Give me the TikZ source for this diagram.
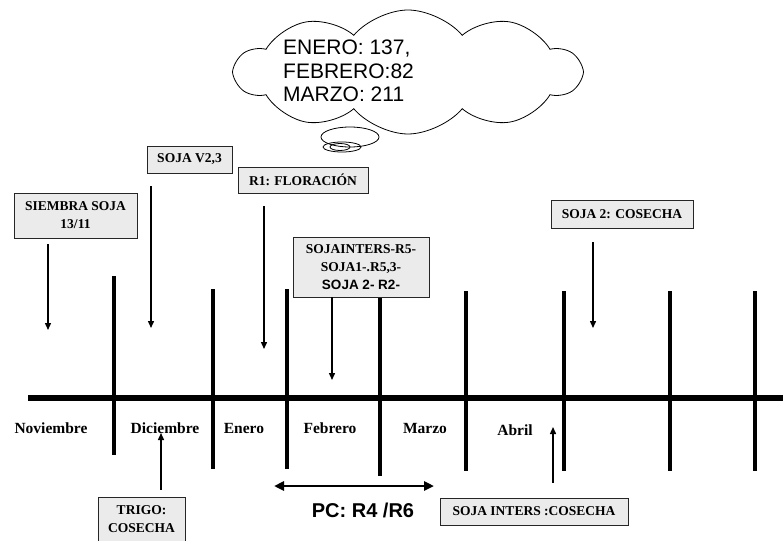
\documentclass[tikz,border=0pt]{standalone}
\usepackage{fontspec}
\setmainfont{Liberation Serif}
\setsansfont{Liberation Sans}
\usetikzlibrary{positioning,arrows.meta,shapes.symbols}
\tikzset{
    caja/.style={
        draw=black!85,
        fill=black!8,
        line width=0.8pt,
        font=\bfseries\fontsize{13.5}{18}\selectfont,
        align=center,
        inner sep=2pt
    },
    mes/.style={font=\bfseries\fontsize{15.5}{18}\selectfont},
    flecha/.style={line width=1.4pt, -{Triangle[length=7pt,width=6pt]}},
    divisor/.style={line width=3.2pt},
}

\begin{document}
\begin{tikzpicture}[x=1pt,y=-1pt]
\useasboundingbox (0,0) rectangle (783,540);

% The cloud with the rainfall
\node[cloud, draw, line width=0.8pt, cloud puffs=10, cloud puff arc=100,
      cloud ignores aspect, minimum width=345, minimum height=124,
      inner sep=0pt] (nube) at (408,72) {};
\draw[line width=0.8pt, fill=white] (350,137) ellipse [x radius=29, y radius=10];
\draw[line width=0.8pt] (342,147) ellipse [x radius=19, y radius=5];
\draw[line width=0.8pt] (340,147) ellipse [x radius=10, y radius=3.5];
\node[anchor=west, align=left, inner sep=0pt,
      font=\sffamily\fontsize{21}{23.5}\selectfont] (lluvia) at (283,71)
      {ENERO: 137,\\FEBRERO:82\\MARZO: 211};

% The time axis and the month dividers
\coordinate (ejeI) at (28,398);
\coordinate (ejeF) at (790,398);
\draw[line width=5.5pt] (ejeI) -- (ejeF);
\foreach \x/\ya/\yb in {114/276/455, 213/289/469, 287/289/469, 380/297/476,
                        466/291/471, 564/291/471, 670/291/471, 755/291/471}
    \draw[divisor] (\x,\ya) -- (\x,\yb);

% The months
\node[mes] (nov) at (51,428)  {Noviembre};
\node[mes] (dic) at (165,428) {Diciembre};
\node[mes] (ene) at (244,428) {Enero};
\node[mes] (feb) at (330,428) {Febrero};
\node[mes] (mar) at (425,428) {Marzo};
\node[mes] (abr) at (515,430) {Abril};

% The boxes
\node[caja, minimum width=123, minimum height=45] (siembra) at (75.5,215.5)
    {SIEMBRA SOJA\\13/11};
\node[caja, minimum width=85, minimum height=27] (sojav) at (189.5,159.5)
    {SOJA V2,3};
\node[caja, minimum width=130, minimum height=26] (floracion) at (303,180)
    {R1: FLORACIÓN};
\node[caja, minimum width=136, minimum height=60] (sojainters) at (361,267)
    {SOJAINTERS-R5-\\SOJA1-.R5,3-\\{\sffamily SOJA 2- R2-}};
\node[caja, minimum width=142, minimum height=28] (sojados) at (622,214)
    {SOJA 2: COSECHA};
\node[caja, minimum width=87, minimum height=44] (trigo) at (141.5,519)
    {TRIGO:\\COSECHA};
\node[caja, minimum width=188, minimum height=27] (intercos) at (534,511.5)
    {SOJA INTERS :COSECHA};

% Where the arrows point
\coordinate (pSiembra) at (48,330);
\coordinate (pSojav) at (151,328);
\coordinate (pFloracion) at (264,349);
\coordinate (pSojainters) at (332,380);
\coordinate (pSojados) at (593,328);
\coordinate (pTrigo) at (161,433);
\coordinate (pIntercos) at (553,427);

\draw[flecha] (siembra.south -| pSiembra) ++(0,6) -- (pSiembra);
\draw[flecha] (sojav.south -| pSojav) ++(0,13) -- (pSojav);
\draw[flecha] (floracion.south -| pFloracion) ++(0,13) -- (pFloracion);
\draw[flecha] (sojainters.south -| pSojainters) -- (pSojainters);
\draw[flecha] (sojados.south -| pSojados) ++(0,14) -- (pSojados);
\draw[flecha] (trigo.north -| pTrigo) ++(0,-7) -- (pTrigo);
\draw[flecha] (intercos.north -| pIntercos) ++(0,-15) -- (pIntercos);

% The critical period
\coordinate (pcI) at (274,486);
\coordinate (pcF) at (434,486);
\draw[line width=2.8pt, {Triangle[length=10pt,width=9pt]}-{Triangle[length=10pt,width=9pt]}]
    (pcI) -- (pcF);
\node[font=\sffamily\bfseries\fontsize{20}{24}\selectfont] (pc) at (363,510)
    {PC: R4 /R6};
\end{tikzpicture}
\end{document}
